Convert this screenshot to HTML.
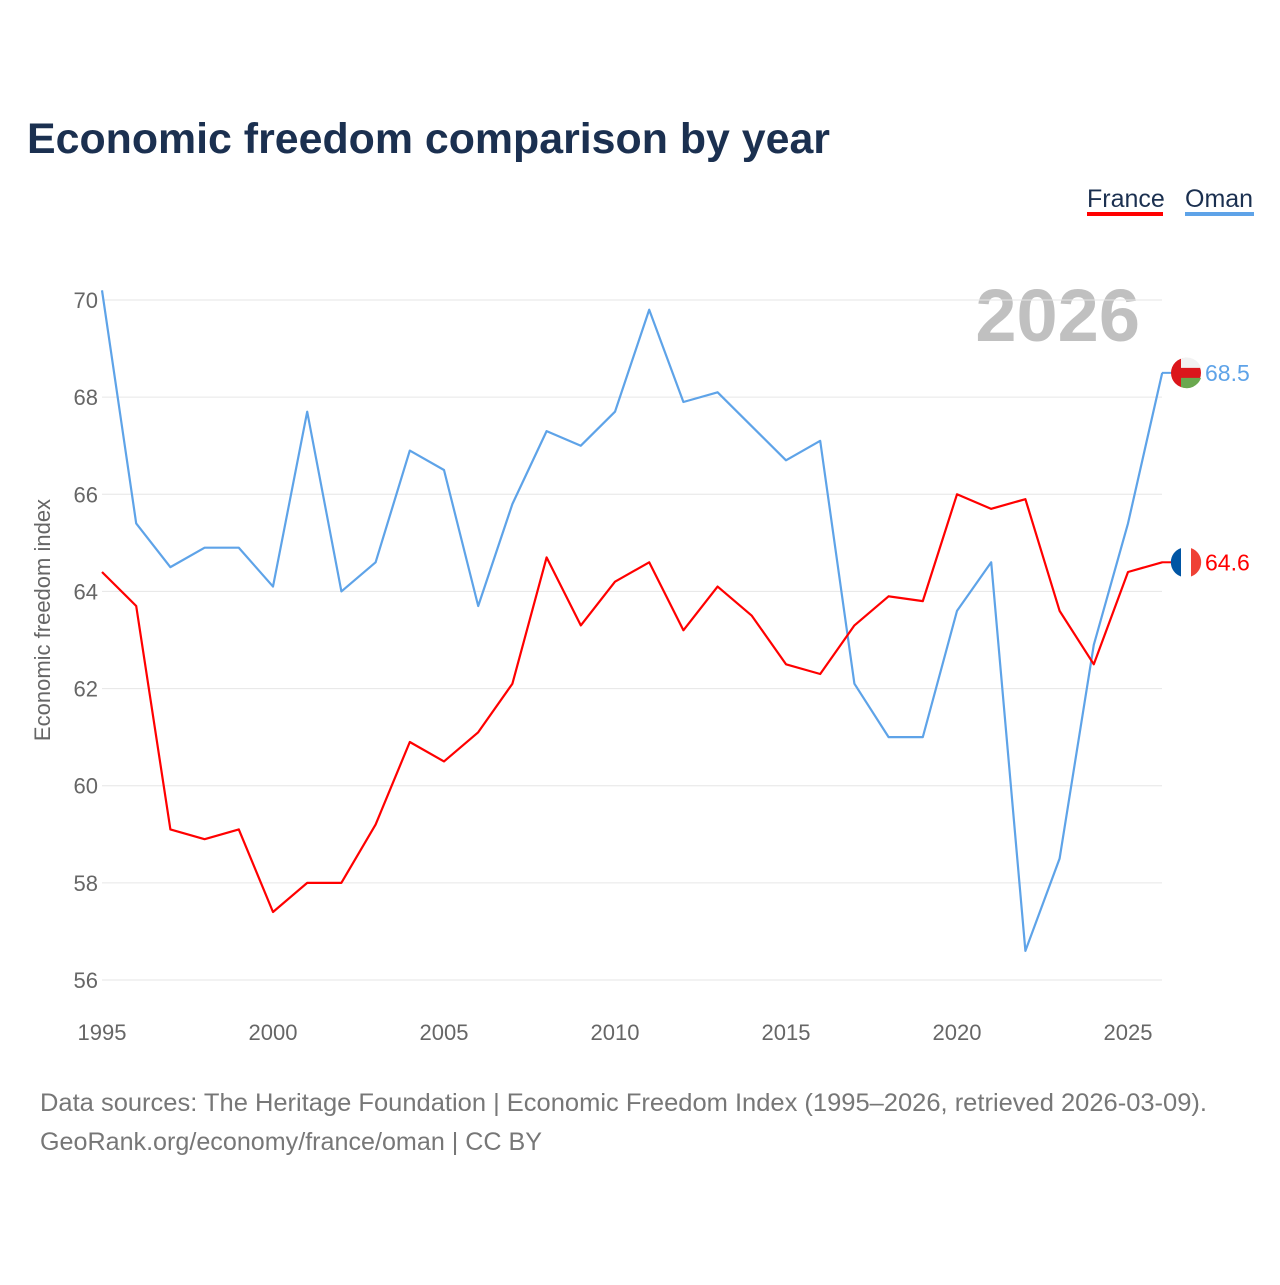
<!DOCTYPE html>
<html><head><meta charset="utf-8"><style>
body{margin:0;background:#fff;font-family:"Liberation Sans",sans-serif;}
#wrap{position:relative;width:1280px;height:1280px;}
</style></head><body>
<div id="wrap">
<svg id="chart" width="1280" height="1280">
<text x="27" y="153" font-size="43" font-weight="bold" fill="#1b3050" textLength="803" lengthAdjust="spacingAndGlyphs">Economic freedom comparison by year</text>
<g><text x="1087" y="207" font-size="25" fill="#1b3050">France</text><rect x="1087" y="212" width="76" height="4" fill="#ff0000"/></g>
<g><text x="1185" y="207" font-size="25" fill="#1b3050">Oman</text><rect x="1185" y="212" width="69" height="4" fill="#5ea3e8"/></g>
<text x="1140" y="341" font-size="74" font-weight="bold" fill="#c0c0c0" text-anchor="end">2026</text>
<text transform="translate(50,620) rotate(-90)" font-size="22" fill="#666" text-anchor="middle">Economic freedom index</text>
<g id="grid"></g><g id="series"></g>
<text x="40" y="1111" font-size="25" fill="#777" textLength="1167" lengthAdjust="spacingAndGlyphs">Data sources: The Heritage Foundation | Economic Freedom Index (1995–2026, retrieved 2026-03-09).</text>
<text x="40" y="1150" font-size="25" fill="#777" textLength="502" lengthAdjust="spacingAndGlyphs">GeoRank.org/economy/france/oman | CC BY</text>
</svg></div>
<script>
const years=[];for(let y=1995;y<=2026;y++)years.push(y);
const france=[64.4,63.7,59.1,58.9,59.1,57.4,58.0,58.0,59.2,60.9,60.5,61.1,62.1,64.7,63.3,64.2,64.6,63.2,64.1,63.5,62.5,62.3,63.3,63.9,63.8,66.0,65.7,65.9,63.6,62.5,64.4,64.6];
const oman=[70.2,65.4,64.5,64.9,64.9,64.1,67.7,64.0,64.6,66.9,66.5,63.7,65.8,67.3,67.0,67.7,69.8,67.9,68.1,67.4,66.7,67.1,62.1,61.0,61.0,63.6,64.6,56.6,58.5,62.9,65.4,68.5];
const yTicks=[56,58,60,62,64,66,68,70];
const xTicks=[1995,2000,2005,2010,2015,2020,2025];
const NS='http://www.w3.org/2000/svg';
const xs=y=>102+(y-1995)*34.2;
const ys=v=>300+(70-v)*48.571;
const grid=document.getElementById('grid'),ser=document.getElementById('series');
function mk(t,a,p){const e=document.createElementNS(NS,t);for(const k in a)e.setAttribute(k,a[k]);p.appendChild(e);return e;}
yTicks.forEach(v=>{
 const l=mk('line',{x1:102,x2:1162,y1:ys(v),y2:ys(v),stroke:'#e6e6e6','stroke-width':1},grid);
 
 
 const t=mk('text',{x:98,y:ys(v)+8,'font-size':22,fill:'#666','text-anchor':'end'},grid);t.textContent=v;
 
 
});
xTicks.forEach(y=>{
 const t=mk('text',{x:xs(y),y:1040,'font-size':22,fill:'#666','text-anchor':'middle'},grid);t.textContent=y;
 
 
});
function line(vals,color,name){
 const p=mk('polyline',{points:vals.map((v,i)=>xs(years[i])+','+ys(v)).join(' '),fill:'none',stroke:color,'stroke-width':2.2,'stroke-linejoin':'round'},ser);
 
 
 const last=vals[vals.length-1],cy=ys(last);
 mk('line',{x1:1162,x2:1172,y1:cy,y2:cy,stroke:color,'stroke-width':2},ser);
 const f=mk('g',{},ser);
 
 
 if(name==='france'){
  mk('circle',{cx:1186,cy:cy,r:15,fill:'#fff'},f);
  mk('path',{d:`M1181,${cy-14.2}A15,15 0 0,0 1181,${cy+14.2}Z`,fill:'#0055a4'},f);
  mk('path',{d:`M1191,${cy-14.2}A15,15 0 0,1 1191,${cy+14.2}Z`,fill:'#ef4135'},f);
 }else{
  mk('circle',{cx:1186,cy:cy,r:15,fill:'#db161b'},f);
  mk('path',{d:`M1181,${cy-5}L1201,${cy-5}A15,15 0 0,0 1181,${cy-14.2}Z`,fill:'#f2f2f2'},f);
  mk('path',{d:`M1181,${cy+5}L1201,${cy+5}A15,15 0 0,1 1181,${cy+14.2}Z`,fill:'#6aa84f'},f);
 }
 const t=mk('text',{x:1205,y:cy+8,'font-size':23,fill:color},ser);t.textContent=last.toFixed(1);
 
 
}
line(oman,'#5ea3e8','oman');
line(france,'#ff0000','france');
</script></body></html>
